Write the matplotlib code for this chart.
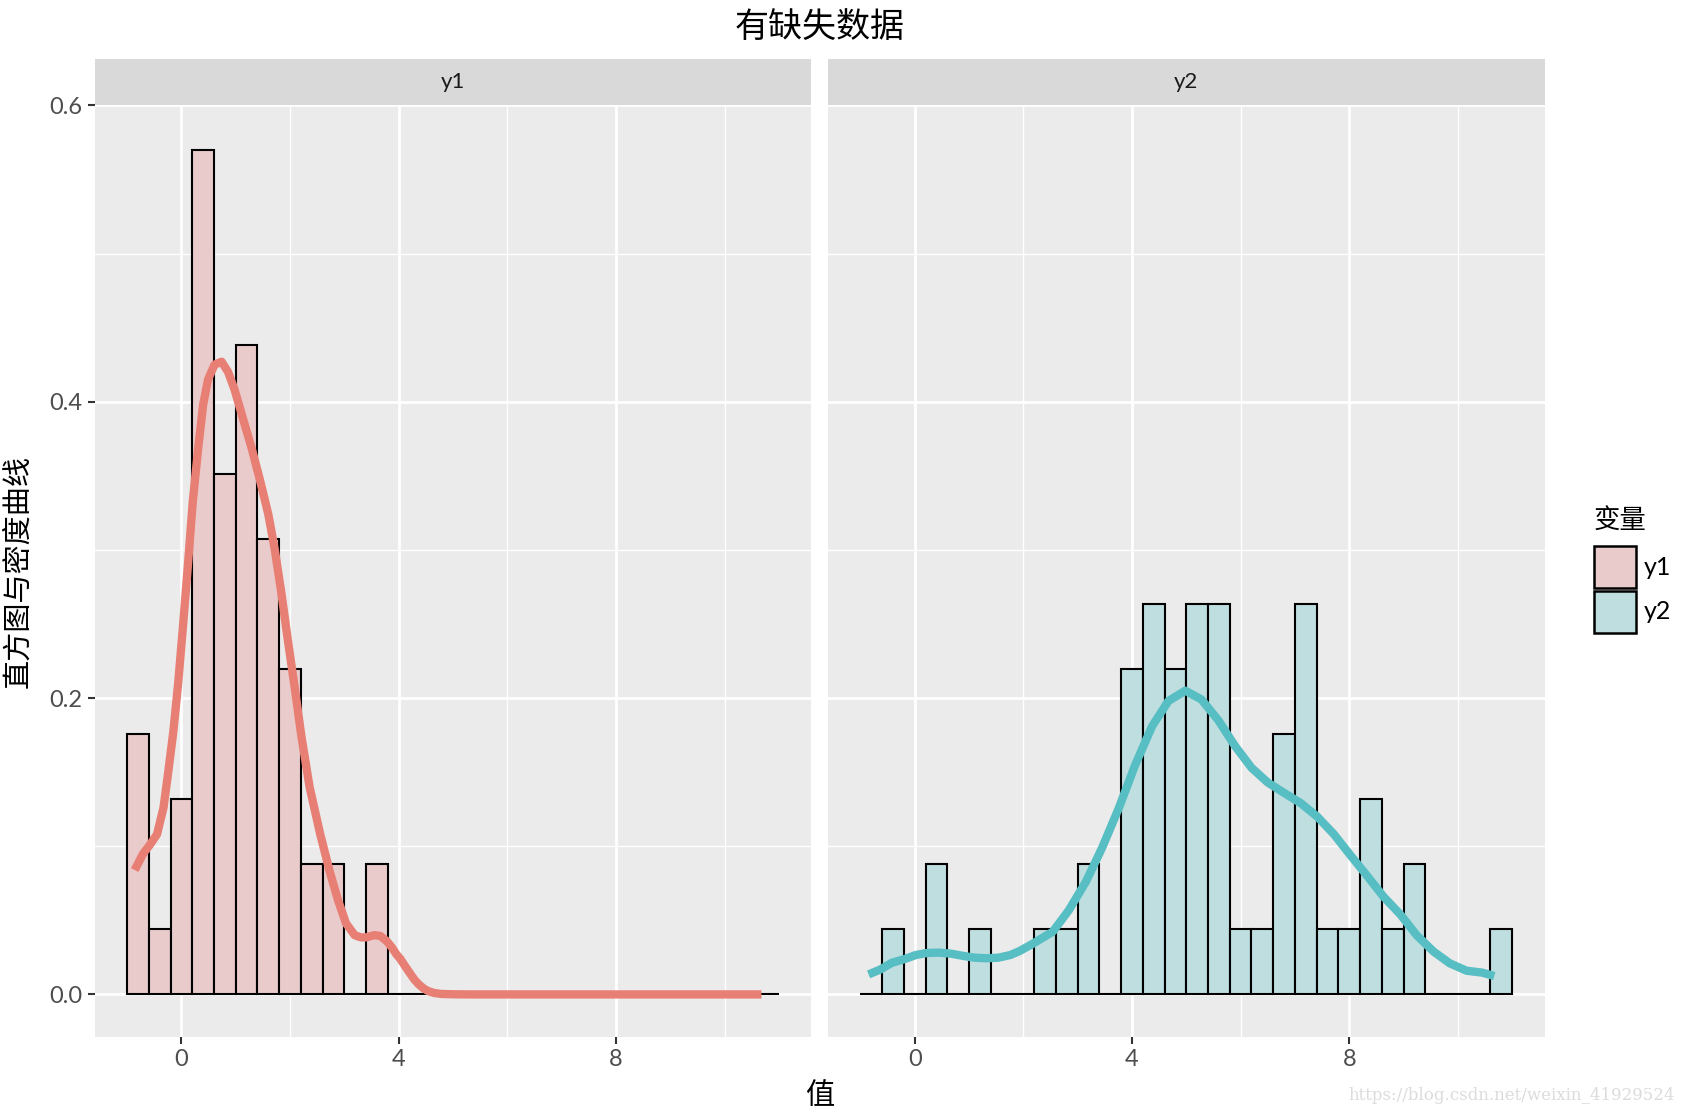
import numpy as np
import matplotlib
matplotlib.use("Agg")
import matplotlib.pyplot as plt
from matplotlib.patches import Rectangle

plt.rcParams['font.family'] = ['Lato', 'Noto Sans CJK SC', 'DejaVu Sans']

# histogram: 30 bins over [-1, 11], counts per bin
bin_edges = np.linspace(-1, 11, 31)
y1_counts = [4, 1, 3, 13, 8, 10, 7, 5, 2, 2, 0, 2, 0, 0, 0,
             0, 0, 0, 0, 0, 0, 0, 0, 0, 0, 0, 0, 0, 0, 0]
y2_counts = [0, 1, 0, 2, 0, 1, 0, 0, 1, 1, 2, 0, 5, 6, 5,
             6, 6, 1, 1, 4, 6, 1, 1, 3, 1, 2, 0, 0, 0, 1]

# density curves
y1_dens_x = [-0.86, -0.71, -0.58, -0.45, -0.33, -0.25, -0.15, -0.06, 0.03, 0.12, 0.21,
             0.31, 0.40, 0.49, 0.61, 0.74, 0.86, 0.98, 1.13, 1.29, 1.44,
             1.60, 1.72, 1.84, 1.96, 2.09, 2.21, 2.36, 2.55, 2.73, 2.88,
             3.03, 3.19, 3.30, 3.40, 3.55, 3.66, 3.78, 3.87, 3.96, 4.03,
             4.12, 4.20, 4.29, 4.37, 4.46, 4.54, 4.65, 4.79, 5.00, 5.30,
             10.68]
y1_dens_y = [0.0839, 0.0947, 0.101, 0.108, 0.126, 0.148, 0.177, 0.210, 0.249, 0.290, 0.333,
             0.369, 0.398, 0.415, 0.425, 0.427, 0.420, 0.408, 0.389, 0.369, 0.348,
             0.324, 0.300, 0.271, 0.239, 0.206, 0.174, 0.140, 0.109, 0.083, 0.064,
             0.048, 0.040, 0.0385, 0.0385, 0.040, 0.0395, 0.036, 0.032, 0.027, 0.024,
             0.019, 0.0147, 0.010, 0.0068, 0.004, 0.0023, 0.001, 0.0003, 0.0001, 0.0,
             0.0]

y2_dens_x = [-0.85, -0.63, -0.42, -0.20, 0.02, 0.23, 0.45, 0.67, 0.89, 1.10,
             1.32, 1.54, 1.76, 1.93, 2.10, 2.30, 2.54, 2.84, 3.15, 3.45,
             3.76, 4.06, 4.37, 4.67, 4.98, 5.28, 5.59, 5.89, 6.20, 6.50,
             6.80, 7.11, 7.41, 7.72, 8.02, 8.33, 8.63, 8.94, 9.24, 9.55,
             9.85, 10.16, 10.45, 10.67]
y2_dens_y = [0.0135, 0.0169, 0.0214, 0.0237, 0.0266, 0.0280, 0.0282, 0.0275, 0.026, 0.0248,
             0.0244, 0.0248, 0.0266, 0.0293, 0.0327, 0.037, 0.0423, 0.057, 0.076, 0.099,
             0.126, 0.155, 0.181, 0.198, 0.205, 0.199, 0.185, 0.168, 0.153, 0.143,
             0.136, 0.129, 0.120, 0.108, 0.094, 0.080, 0.066, 0.054, 0.040, 0.029,
             0.021, 0.016, 0.0147, 0.0124]

panels = ['y1', 'y2']
fills = {'y1': '#EACBCB', 'y2': '#BFDEE0'}
lines = {'y1': '#E87F74', 'y2': '#57BEC3'}
counts = {'y1': y1_counts, 'y2': y2_counts}
dens = {'y1': (y1_dens_x, y1_dens_y), 'y2': (y2_dens_x, y2_dens_y)}

fig = plt.figure(figsize=(16.82, 11.16), dpi=100)
fig.patch.set_facecolor('white')

lefts = [0.0562, 0.4922]
width = 0.4262
bottom = 0.0711
height = 0.9056 - 0.0711
strip_h = 0.947 - 0.9056

binw = bin_edges[1] - bin_edges[0]
for i, name in enumerate(panels):
    ax = fig.add_axes([lefts[i], bottom, width, height])
    ax.set_facecolor('#EBEBEB')
    c = np.array(counts[name], dtype=float)
    d = c / (c.sum() * binw)
    ax.bar(bin_edges[:-1], d, width=binw, align='edge', color=fills[name],
           edgecolor='black', linewidth=1.5, zorder=2)
    ax.plot(dens[name][0], dens[name][1], color=lines[name], lw=6,
            solid_joinstyle='round', solid_capstyle='butt', zorder=3)
    ax.set_xlim(-1.6, 11.6)
    ax.set_ylim(-0.0285, 0.5987)
    ax.set_xticks([0, 4, 8])
    ax.set_xticks([2, 6, 10], minor=True)
    ax.set_yticks([0.0, 0.2, 0.4, 0.6])
    ax.set_yticks([0.1, 0.3, 0.5], minor=True)
    ax.grid(which='major', color='white', lw=2.0, zorder=1)
    ax.grid(which='minor', color='white', lw=1.0, zorder=1)
    ax.set_axisbelow(True)
    for s in ax.spines.values():
        s.set_visible(False)
    ax.tick_params(which='minor', length=0)
    ax.tick_params(which='major', length=5, width=1.5, color='#333333',
                   labelcolor='#4D4D4D', labelsize=17, pad=4)
    ax.set_xticklabels(['0', '4', '8'])
    if i == 0:
        ax.set_yticklabels(['0.0', '0.2', '0.4', '0.6'])
    else:
        ax.tick_params(axis='y', left=False, labelleft=False)
    # facet strip
    sax = fig.add_axes([lefts[i], 0.9056, width, strip_h])
    sax.set_facecolor('#D9D9D9')
    sax.set_xticks([])
    sax.set_yticks([])
    for s in sax.spines.values():
        s.set_visible(False)
    sax.text(0.5, 0.5, name, ha='center', va='center', fontsize=16,
             color='#1A1A1A', transform=sax.transAxes)

fig.text(0.4875, 0.976, '有缺失数据', ha='center', va='center', fontsize=24.5,
         color='black', fontweight='medium')
fig.text(0.0105, 0.488, '直方图与密度曲线', ha='center', va='center', rotation=90,
         fontsize=21, color='black', fontweight='medium')
fig.text(0.4875, 0.018, '值', ha='center', va='center', fontsize=21,
         color='black', fontweight='medium')

# legend, drawn by hand to match the ggplot guide
fig.text(0.9477, 0.534, '变量', ha='left', va='center', fontsize=19,
         color='black', fontweight='medium')
key_w, key_h = 0.02497, 0.03763
key_y = [0.4731, 0.4328]
for n, ky in zip(panels, key_y):
    fig.add_artist(Rectangle((0.9477, ky), key_w, key_h, transform=fig.transFigure,
                             facecolor=fills[n], edgecolor='black', linewidth=1.8))
    fig.text(0.9774, ky + key_h / 2, n, ha='left', va='center', fontsize=18,
             color='black')

fig.text(0.9955, 0.018, 'https://blog.csdn.net/weixin_41929524', ha='right',
         va='center', fontsize=12, color='#DCDCDC', family='DejaVu Serif')

fig.savefig('out.png', dpi=100)
